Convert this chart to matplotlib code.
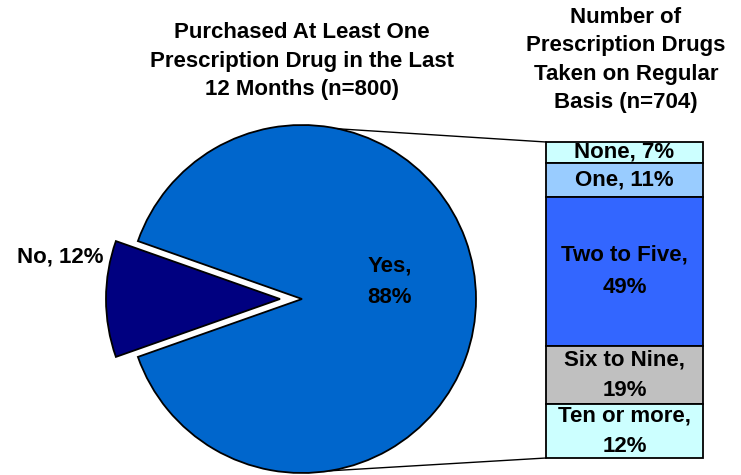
import numpy as np
import matplotlib.pyplot as plt

plt.rcParams['font.family'] = ['Liberation Sans', 'DejaVu Sans']

# pie: purchased at least one prescription drug (n=800)
pie_labels = ['Yes', 'No']
pie_pcts = [88, 12]
pie_shares = [89.2, 10.8]   # wedge sizes as drawn
pie_colors = ['#0066CC', '#000080']

# bar: number of prescription drugs taken (n=704), top to bottom
bar_labels = ['None', 'One', 'Two to Five', 'Six to Nine', 'Ten or more']
bar_pcts = [7, 11, 49, 19, 12]
bar_shares = [6.6, 10.8, 47.2, 18.4, 17.1]   # segment heights as drawn
bar_colors = ['#CCFFFF', '#99CCFF', '#3366FF', '#C0C0C0', '#CCFFFF']

W, H = 741, 475
fig = plt.figure(figsize=(W / 100, H / 100), dpi=100)
ax = fig.add_axes([0, 0, 1, 1])

# pie, in pixel units (y from bottom)
cx, cy, r = 302, H - 299, 174
no_share = pie_shares[1] / sum(pie_shares) * 360
start = 180 - 360 + no_share / 2
ax.pie(pie_shares, colors=pie_colors, startangle=start, radius=r,
       center=(cx, cy), explode=[0, 22], frame=True,
       wedgeprops=dict(edgecolor='black', linewidth=1.3))
ax.set_xlim(0, W)
ax.set_ylim(0, H)
ax.set_aspect('auto')
ax.axis('off')

fs = 16
ax.text(cx + 88, H - 282, f'{pie_labels[0]},\n{pie_pcts[0]}%', ha='center',
        va='center', fontsize=fs, fontweight='bold', linespacing=1.68)
ax.text(60, H - 257, f'{pie_labels[1]}, {pie_pcts[1]}%', ha='center',
        va='center', fontsize=fs, fontweight='bold')

# stacked bar
bx, bw = 624.5, 157
b_top, b_bot = H - 142, H - 458
scale = (b_top - b_bot) / sum(bar_shares)
top = b_top
for lab, pct, sh, col in zip(bar_labels, bar_pcts, bar_shares, bar_colors):
    h = sh * scale
    ax.bar(bx, h, bottom=top - h, width=bw, color=col, edgecolor='black',
           linewidth=1.3)
    mid = top - h / 2
    if h > 45:
        txt = f'{lab},\n{pct}%'
        ls = 1.75 if h > 100 else 1.6
    else:
        txt = f'{lab}, {pct}%'
        ls = 1.2
    ax.text(bx, mid, txt, ha='center', va='center', fontsize=fs,
            fontweight='bold', linespacing=ls)
    top -= h

# connector lines from pie to bar
for ang, ybar in [(78, b_top), (-81, b_bot)]:
    px = cx + r * np.cos(np.radians(ang))
    py = cy + r * np.sin(np.radians(ang))
    ax.plot([px, bx - bw / 2], [py, ybar], color='black', lw=1.0)

ax.text(cx, H - 61, 'Purchased At Least One\nPrescription Drug in the Last\n'
        '12 Months (n=800)', ha='center', va='center', fontsize=fs,
        fontweight='bold', linespacing=1.48)
ax.text(626, H - 60, 'Number of\nPrescription Drugs\nTaken on Regular\n'
        'Basis (n=704)', ha='center', va='center', fontsize=fs,
        fontweight='bold', linespacing=1.45)

fig.savefig('out.png', dpi=100)
